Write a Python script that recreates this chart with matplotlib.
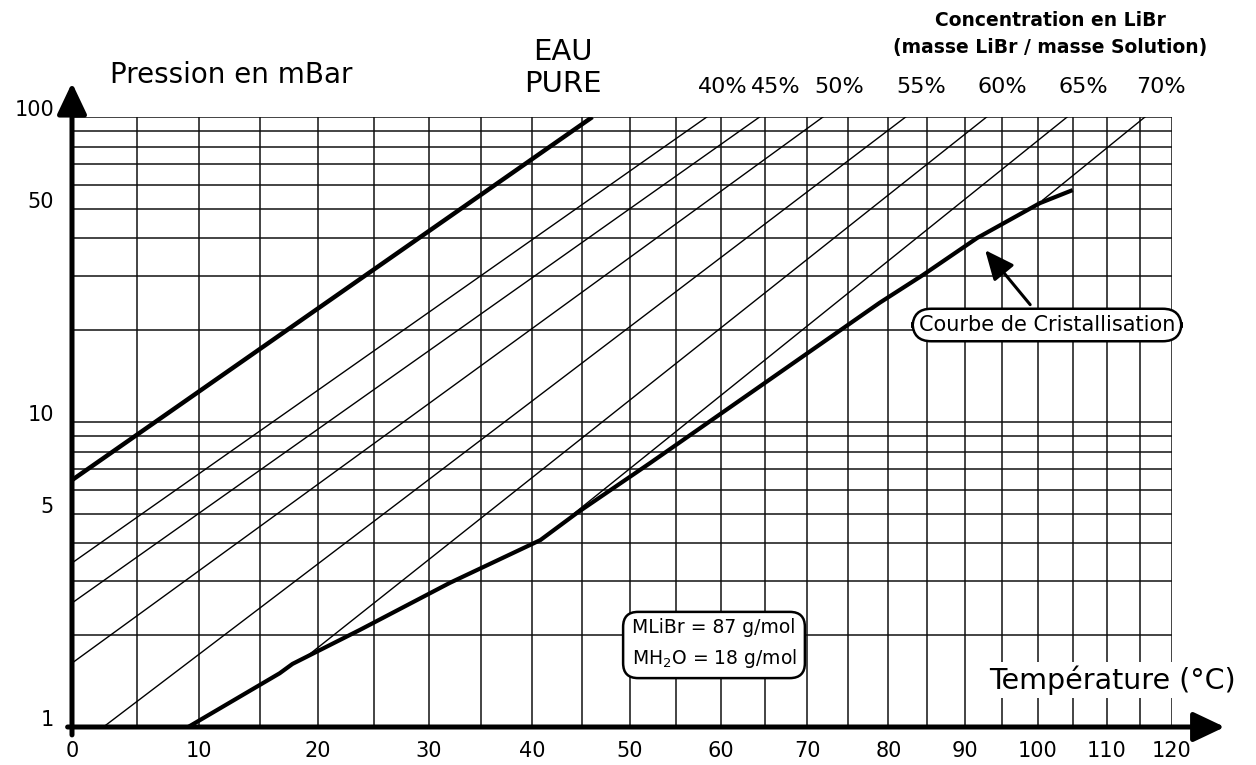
import matplotlib.pyplot as plt
import numpy as np
from matplotlib.ticker import NullFormatter
from matplotlib.transforms import ScaledTranslation

# axes: temperature (degC) on a 1/T scale, pressure (mbar) on a log scale
temp_ticks = [0, 10, 20, 30, 40, 50, 60, 70, 80, 90, 100, 110, 120]
temp_grid = [5, 15, 25, 35, 45, 55, 65, 75, 85, 95, 105, 115]
press_ticks = [1, 5, 10, 50, 100]
press_grid = [2, 3, 4, 6, 7, 8, 9, 20, 30, 40, 60, 70, 80, 90]

# pure water
water_T = [0, 46.1]
water_P = [6.45, 100]

# iso-concentration lines (start / end points)
conc_labels = ["40%", "45%", "50%", "55%", "60%", "65%", "70%"]
conc_T_start = [0, 0, 0, 2.4, 19.0, 44.0, 100.7]
conc_P_start = [3.45, 2.55, 1.62, 1.0, 1.70, 4.95, 53.4]
conc_T_end = [58.4, 64.4, 71.9, 82.2, 92.9, 104.2, 115.8]
conc_P_end = [100, 100, 100, 100, 100, 100, 100]

# crystallisation curve
cryst_T = [9.1, 16.7, 17.8, 23.7, 32.0, 40.8, 44.5, 52.2, 78.9, 84.4, 91.6, 100.3, 105.0]
cryst_P = [1.00, 1.50, 1.61, 2.08, 2.97, 4.10, 5.03, 7.34, 24.6, 30.3, 40.1, 52.2, 57.6]
arrow_T, arrow_P = 92.7, 36.6

W, H = 1256, 765


def px(x, y):
    return x / W, 1 - y / H


def fwd(t):
    return -1.0 / (np.asarray(t, dtype=float) + 273.15)


def inv(u):
    with np.errstate(divide="ignore"):
        return -1.0 / np.asarray(u, dtype=float) - 273.15


fig = plt.figure(figsize=(12.56, 7.65), dpi=100)
ax = fig.add_axes([72 / W, 1 - 727 / H, 1100 / W, 610 / H])
ax.set_xscale("function", functions=(fwd, inv))
ax.set_yscale("log")
ax.set_xlim(0, 120)
ax.set_ylim(1, 100)

ax.set_xticks(temp_ticks)
ax.set_xticklabels([str(t) for t in temp_ticks])
ax.set_xticks(temp_grid, minor=True)
ax.set_yticks(press_ticks)
ax.set_yticklabels([str(p) for p in press_ticks])
ax.set_yticks(press_grid, minor=True)
ax.yaxis.set_minor_formatter(NullFormatter())
ax.xaxis.set_minor_formatter(NullFormatter())
ax.grid(True, which="both", color="#111111", lw=1.1)

ax.tick_params(axis="x", which="both", length=0, pad=10, labelsize=15)
ax.tick_params(axis="y", which="both", length=0, pad=13, labelsize=15)
for lbl in ax.get_yticklabels():
    lbl.set_transform(lbl.get_transform() + ScaledTranslation(0, 0.09, fig.dpi_scale_trans))
for s in ax.spines.values():
    s.set_visible(False)

# data
for i in range(len(conc_labels)):
    ax.plot([conc_T_start[i], conc_T_end[i]], [conc_P_start[i], conc_P_end[i]],
            color="k", lw=1.0)
    ax.annotate(conc_labels[i], xy=(conc_T_end[i], conc_P_end[i]),
                xytext=(16, 30), textcoords="offset pixels",
                ha="center", va="center", fontsize=16, annotation_clip=False)
ax.plot(water_T, water_P, color="k", lw=3.2, solid_capstyle="butt")
ax.plot(cryst_T, cryst_P, color="k", lw=3.0, solid_capstyle="butt")

# axis arrows
arr = dict(arrowstyle="-|>,head_length=0.95,head_width=0.45", color="k",
           lw=3.6, mutation_scale=20, shrinkA=0, shrinkB=0)
ax.annotate("", xy=(1.048, 0), xytext=(-0.004, 0), xycoords="axes fraction",
            arrowprops=arr, annotation_clip=False)
ax.annotate("", xy=(0, 1.056), xytext=(0, -0.013), xycoords="axes fraction",
            arrowprops=arr, annotation_clip=False)

# texts
fig.text(*px(110, 75), "Pression en mBar", fontsize=20, ha="left", va="center")
fig.text(*px(563, 68), "EAU\nPURE", fontsize=21, ha="center", va="center",
         linespacing=1.15)
fig.text(*px(1050, 20), "Concentration en LiBr", fontsize=13.5,
         fontweight="bold", ha="center", va="center")
fig.text(*px(1050, 47), "(masse LiBr / masse Solution)", fontsize=13.5,
         fontweight="bold", ha="center", va="center")
fig.text(*px(1112, 680), "Température (°C)", fontsize=20.5, ha="center", va="center",
         bbox=dict(fc="white", ec="none", pad=2))
fig.text(*px(714, 644), "MLiBr = 87 g/mol\nMH$_2$O = 18 g/mol", fontsize=13.5,
         ha="center", va="center", multialignment="left", linespacing=1.55,
         bbox=dict(boxstyle="round,pad=0.45,rounding_size=0.8", fc="white",
                   ec="k", lw=1.8))
ax.annotate("Courbe de Cristallisation", xy=(arrow_T, arrow_P),
            xytext=px(1047, 325), textcoords="figure fraction",
            fontsize=15, ha="center", va="center",
            bbox=dict(boxstyle="round,pad=0.3,rounding_size=0.9", fc="white",
                      ec="k", lw=1.8),
            arrowprops=dict(arrowstyle="-|>,head_length=0.9,head_width=0.4",
                            lw=2.2, color="k", mutation_scale=20,
                            shrinkA=3, shrinkB=0))

fig.savefig("out.png", dpi=100)
